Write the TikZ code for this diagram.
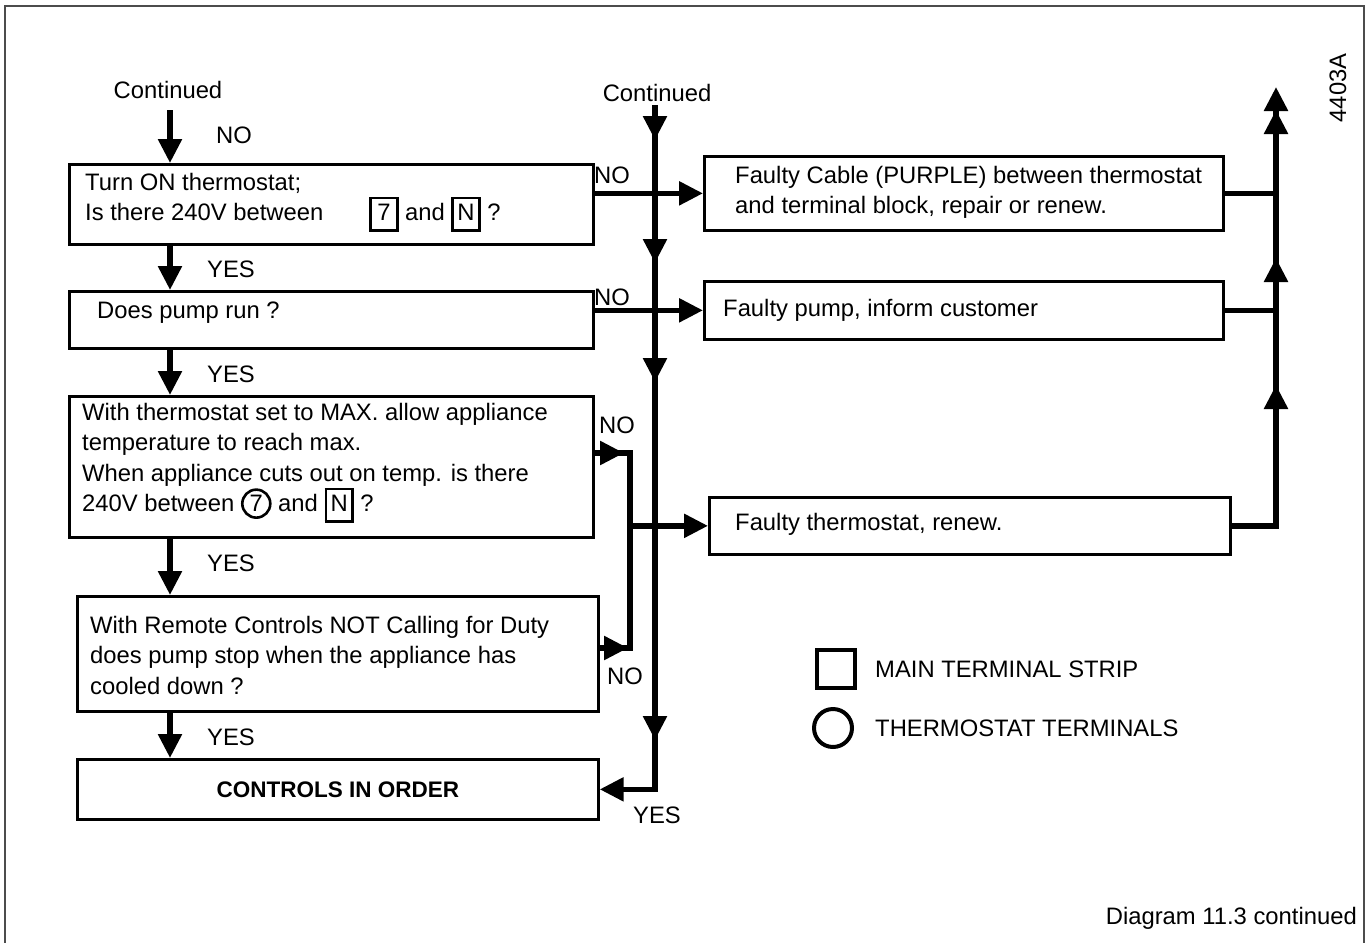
\documentclass[tikz,border=0pt]{standalone}
\usepackage{fontspec}
\setmainfont{Liberation Sans}
\usetikzlibrary{arrows.meta}
\newcommand\sqbox[1]{{\setlength\fboxrule{2.6pt}\setlength\fboxsep{2.5pt}\fbox{\makebox[19pt]{\rule[-6pt]{0pt}{25pt}#1}}}}
\newcommand\cnum[1]{\tikz[baseline=(cn.base)]\node[circle,draw,line width=2.6pt,inner sep=0pt,minimum size=28pt](cn){#1};}
\begin{document}
\begin{tikzpicture}[x=1pt,y=-1pt,
  txt/.style={font=\fontsize{23.8}{30.5}\selectfont, align=left, inner sep=0pt},
  lbl/.style={font=\fontsize{23.8}{28}\selectfont, inner sep=0pt},
  box/.style={draw, line width=2.7pt, inner sep=0pt, anchor=north west},
  flow/.style={line width=5.5pt, line join=miter},
  arr/.style={line width=5.5pt, line join=miter, -{Triangle[length=24pt,width=23pt]}},
]
\useasboundingbox (0,0) rectangle (1372,942);
% frame
\draw[line width=2pt, draw=black!70] (5,945) -- (5,6) -- (1364,6) -- (1364,945);

% left column boxes
\node[box, minimum width=524pt, minimum height=80pt] (b1) at (68,163) {};
\node[box, minimum width=524pt, minimum height=57pt] (b2) at (68,290) {};
\node[box, minimum width=524pt, minimum height=141pt] (b3) at (68,395) {};
\node[box, minimum width=521pt, minimum height=115pt] (b4) at (76,595) {};
\node[box, minimum width=521pt, minimum height=60pt] (b5) at (76,758) {};
% right boxes
\node[box, minimum width=519pt, minimum height=74pt] (r1) at (703,155) {};
\node[box, minimum width=519pt, minimum height=58pt] (r2) at (703,280) {};
\node[box, minimum width=521pt, minimum height=57pt] (r3) at (708,496) {};

% texts
\node[txt, anchor=west] (t1) at (85,202.5) {Turn ON thermostat;\\Is there 240V between\hspace{46pt}\sqbox{7} and \sqbox{N} ?};
\node[txt, anchor=west] (t2) at (97,313) {Does pump run ?};
\node[txt, anchor=west] (t3) at (82,463) {With thermostat set to MAX. allow appliance\\temperature to reach max.\\When appliance cuts out on temp. is there\\240V between \cnum{7} and \sqbox{N} ?};
\node[txt, anchor=west] (t4) at (90,655) {With Remote Controls NOT Calling for Duty\\does pump stop when the appliance has\\cooled down ?};
\node[txt, font=\fontsize{22.5}{28}\selectfont\bfseries] (t5) at (b5.center) {CONTROLS IN ORDER};
\node[txt, anchor=west] (tr1) at (735,192.5) {Faulty Cable (PURPLE) between thermostat\\and terminal block, repair or renew.};
\node[txt, anchor=west] (tr2) at (723,310) {Faulty pump, inform customer};
\node[txt, anchor=west] (tr3) at (735,524.5) {Faulty thermostat, renew.};

% continued labels
\node[lbl] (c1) at (168,90) {Continued};
\node[lbl] (c2) at (657,93) {Continued};
\coordinate (c1e) at (170,110);
\coordinate (m0) at (655,105);

% left spine
\draw[arr] (c1e) -- (b1.north -| c1e);
\draw[arr] (b1.south -| c1e) -- (b2.north -| c1e);
\draw[arr] (b2.south -| c1e) -- (b3.north -| c1e);
\draw[arr] (b3.south -| c1e) -- (b4.north -| c1e);
\draw[arr] (b4.south -| c1e) -- (b5.north -| c1e);
\node[lbl] (n0) at (234,135) {NO};
\node[lbl] (y1) at (231,269) {YES};
\node[lbl] (y2) at (231,374) {YES};
\node[lbl] (y3) at (231,563) {YES};
\node[lbl] (y4) at (231,737) {YES};

% middle bus
\coordinate (mc) at (m0 |- b5.east);
\draw[arr] (m0) -- (mc) -- (b5.east);
\foreach \y in {140,263,382,740} \draw[arr] (655,\y-25) -- (655,\y);
\node[lbl] (yb) at (657,815) {YES};

% NO branches to right boxes
\draw[arr] (b1.east |- r1.west) -- (r1.west);
\draw[arr] (b2.east |- r2.west) -- (r2.west);
\node[lbl] (n1) at (612,175) {NO};
\node[lbl] (n2) at (612,297) {NO};

% thermostat branches
\coordinate (b3o) at (592,453);
\coordinate (b4o) at (597,648);
\coordinate (k1) at (630,453);
\coordinate (k2) at (630,648);
\draw[flow] (b3o) -- (k1) -- (k2) -- (b4o);
\draw[arr] (b3o) -- (624,453);
\draw[arr] (b4o) -- (628,648);
\draw[arr] (k1 |- r3.west) -- (r3.west);
\node[lbl] (n3) at (617,425) {NO};
\node[lbl] (n4) at (625,676) {NO};

% right bus
\coordinate (rt) at (1276,87);
\draw[arr] (r3.east) -- (rt |- r3.east) -- (rt);
\draw[flow] (r1.east) -- (rt |- r1.east);
\draw[flow] (r2.east) -- (rt |- r2.east);
\foreach \y in {110,258,385} \draw[arr] (1276,\y+25) -- (1276,\y);

% legend
\node[draw, line width=4pt, minimum size=38pt, inner sep=0pt] (lsq) at (836,669) {};
\node[draw, circle, line width=4pt, minimum size=38pt, inner sep=0pt] (lci) at (833,728) {};
\node[lbl, anchor=west] (ls) at (875,669) {MAIN TERMINAL STRIP};
\node[lbl, anchor=west] (lc) at (875,728) {THERMOSTAT TERMINALS};

% ids
\node[lbl, rotate=90] (id) at (1338,88) {4403A};
\node[lbl, anchor=east] (cap) at (1357,918) {Diagram 11.3 continued};
\end{tikzpicture}
\end{document}
